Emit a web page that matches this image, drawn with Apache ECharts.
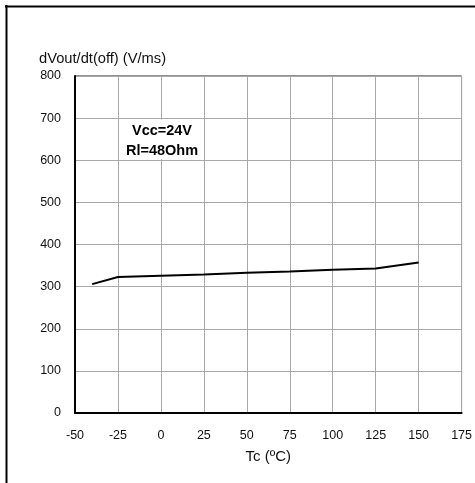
<!DOCTYPE html>
<html>
<head>
<meta charset="utf-8">
<script src="https://cdn.jsdelivr.net/npm/echarts@6/dist/echarts.min.js"></script>
<style>html,body{margin:0;padding:0;background:#fff;}#c{width:475px;height:483px;}</style>
</head>
<body>
<div id="c"></div>
<script>
const temps = [-40, -25, 0, 25, 50, 75, 100, 125, 150];
const slew = [306, 323, 326, 329, 333, 336, 340, 343, 357];
const yTitle = 'dVout/dt(off) (V/ms)';
const xTitle = 'Tc (ºC)';
const notes = ['Vcc=24V', 'Rl=48Ohm'];

const chart = echarts.init(document.getElementById('c'), null, {renderer: 'canvas'});
const font = 'Arial, "Liberation Sans", sans-serif';
chart.setOption({
  animation: false,
  backgroundColor: '#fff',
  grid: {left: 75, right: 12, top: 76, bottom: 70, show: true, borderColor: '#222', borderWidth: 1},
  xAxis: {
    type: 'value', min: -50, max: 175, interval: 25,
    name: xTitle, nameLocation: 'middle', nameGap: 36,
    nameTextStyle: {color: '#111', fontSize: 15, fontFamily: font},
    axisLine: {show: true, onZero: false, lineStyle: {color: '#000', width: 2}},
    axisTick: {show: false},
    axisLabel: {color: '#111', fontSize: 12.5, fontFamily: font, margin: 16},
    splitLine: {show: true, lineStyle: {color: '#a8a8a8', width: 1}}
  },
  yAxis: {
    type: 'value', min: 0, max: 800, interval: 100,
    axisLine: {show: true, onZero: false, lineStyle: {color: '#000', width: 2}},
    axisTick: {show: false},
    axisLabel: {color: '#111', fontSize: 12.5, fontFamily: font, margin: 14},
    splitLine: {show: true, lineStyle: {color: '#a8a8a8', width: 1}}
  },
  graphic: [
    {type: 'line', z: 100, shape: {x1: 5, y1: 6.5, x2: 475, y2: 6.5}, style: {stroke: '#000', lineWidth: 2}},
    {type: 'line', z: 100, shape: {x1: 6.5, y1: 5, x2: 6.5, y2: 483}, style: {stroke: '#000', lineWidth: 2}},
    {type: 'text', z: 100, left: 39, top: 51, style: {text: yTitle, fill: '#111', font: '14.7px ' + font}},
    {type: 'rect', z: 100, shape: {x: 123, y: 119.5, width: 78, height: 39.5}, style: {fill: '#fff'}},
    {type: 'text', z: 101, x: 162, y: 131, style: {text: notes[0], fill: '#000', font: 'bold 14.5px ' + font, textAlign: 'center', textVerticalAlign: 'middle'}},
    {type: 'text', z: 101, x: 162, y: 151, style: {text: notes[1], fill: '#000', font: 'bold 14.5px ' + font, textAlign: 'center', textVerticalAlign: 'middle'}}
  ],
  series: [{
    type: 'line',
    data: temps.map((t, i) => [t, slew[i]]),
    showSymbol: false,
    lineStyle: {color: '#000', width: 2},
    z: 5
  }]
});
</script>
</body>
</html>
